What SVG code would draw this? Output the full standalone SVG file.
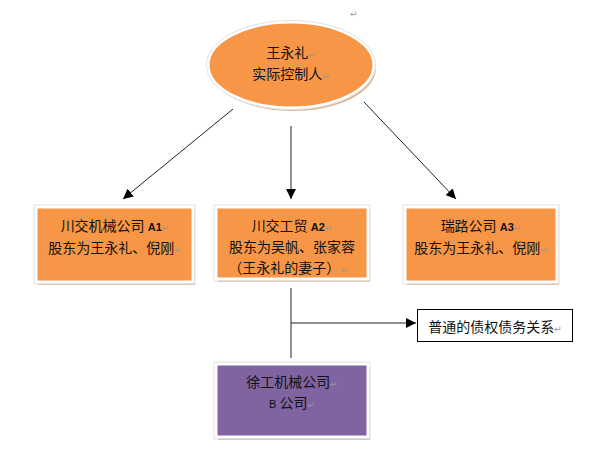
<svg xmlns="http://www.w3.org/2000/svg" width="595" height="452" viewBox="0 0 595 452">
<style>
.t{font-family:"Noto Sans CJK SC","Noto Sans",sans-serif;font-size:14px;fill:#111;text-anchor:middle}
.r{fill:#999;font-size:9px;font-family:"DejaVu Sans",sans-serif}
.lat{font-family:"Liberation Sans",Arial,sans-serif;font-size:11px;font-weight:bold}
.orange{fill:#F79646;stroke:#ffffff;stroke-width:3}
.purple{fill:#8064A2;stroke:#ffffff;stroke-width:3}
.edge{fill:none;stroke:#e2e2e2;stroke-width:1}
.sh{fill:#d2b597}
.shp{fill:#b7b2bb}
.ln{fill:none;stroke:#222;stroke-width:1}
</style>
<defs>
<marker id="ah" viewBox="0 0 10 10" refX="10" refY="5" markerWidth="10" markerHeight="10" markerUnits="userSpaceOnUse" orient="auto">
<path d="M0,0 L10,5 L0,10 Z" fill="#000"/>
</marker>
</defs>
<rect width="595" height="452" fill="#fff"/>
<text x="350" y="17" class="r">↵</text>

<g id="connectors">
<line class="ln" x1="233" y1="109" x2="123" y2="199" marker-end="url(#ah)"/>
<line class="ln" x1="291" y1="126" x2="291" y2="199" marker-end="url(#ah)"/>
<line class="ln" x1="364" y1="102" x2="456" y2="199" marker-end="url(#ah)"/>
<line class="ln" x1="291" y1="288" x2="291" y2="358" stroke="#444"/>
<line class="ln" x1="291" y1="323" x2="416" y2="323" marker-end="url(#ah)"/>
</g>

<g id="controller">
<ellipse cx="293" cy="68" rx="83" ry="43" fill="#d8b898"/>
<ellipse cx="291" cy="65" rx="83" ry="43" class="orange"/>
<ellipse cx="291" cy="65" rx="84.5" ry="44.5" class="edge"/>
<text x="291" y="58" class="t">王永礼<tspan class="r">↵</tspan></text>
<text x="291" y="79" class="t">实际控制人<tspan class="r">↵</tspan></text>
</g>

<g id="A1">
<rect x="38" y="210" width="157" height="75" class="sh"/>
<rect x="36" y="207" width="157" height="75" class="orange"/>
<rect x="34" y="205" width="161" height="79" class="edge"/>
<text x="115" y="231" class="t">川交机械公司 <tspan class="lat">A1</tspan><tspan class="r">↵</tspan></text>
<text x="115" y="253" class="t">股东为王永礼、倪刚<tspan class="r">↵</tspan></text>
</g>

<g id="A2">
<rect x="218" y="210" width="152" height="72" class="sh"/>
<rect x="216" y="207" width="152" height="72" class="orange"/>
<rect x="214" y="205" width="156" height="76" class="edge"/>
<text x="292" y="231" class="t">川交工贸 <tspan class="lat">A2</tspan><tspan class="r">↵</tspan></text>
<text x="292" y="252" class="t">股东为吴帆、张家蓉</text>
<text x="288" y="273" class="t">（王永礼的妻子）<tspan class="r">↵</tspan></text>
</g>

<g id="A3">
<rect x="407" y="210" width="152" height="75" class="sh"/>
<rect x="405" y="207" width="152" height="75" class="orange"/>
<rect x="403" y="205" width="156" height="79" class="edge"/>
<text x="481" y="231" class="t">瑞路公司 <tspan class="lat">A3</tspan><tspan class="r">↵</tspan></text>
<text x="481" y="253" class="t">股东为王永礼、倪刚<tspan class="r">↵</tspan></text>
</g>

<g id="B">
<rect x="218" y="367" width="152" height="73" class="shp"/>
<rect x="216" y="364" width="152" height="73" class="purple"/>
<rect x="214" y="362" width="156" height="77" class="edge"/>
<text x="292" y="387" class="t">徐工机械公司<tspan class="r">↵</tspan></text>
<text x="292" y="408" class="t"><tspan font-family="Liberation Sans" font-size="11">B</tspan> 公司<tspan class="r">↵</tspan></text>
</g>

<g id="relation">
<rect x="417.5" y="309.5" width="155" height="32" fill="#fff" stroke="#000" stroke-width="1"/>
<text x="495" y="332" class="t">普通的债权债务关系<tspan class="r">↵</tspan></text>
</g>
</svg>
